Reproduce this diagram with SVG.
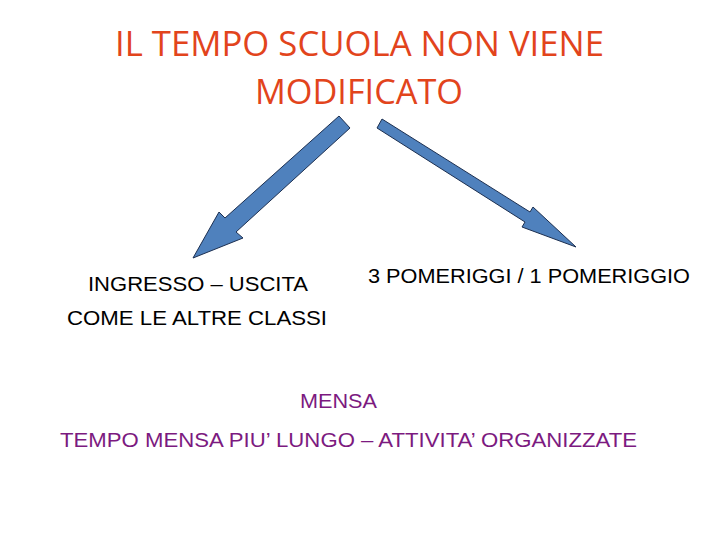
<svg xmlns="http://www.w3.org/2000/svg" width="720" height="540" viewBox="0 0 720 540">
<style>
.title{font-family:"Open Sans","Liberation Sans",sans-serif;font-size:35px;fill:#e2441c}
.lbl{font-family:"Liberation Sans",Arial,sans-serif;font-size:21px;fill:#000}
.mensa{font-family:"Liberation Sans",Arial,sans-serif;font-size:21px;fill:#7c1a80}
.arrow{fill:#4f81bd;stroke:#1c2f50;stroke-width:1;stroke-linejoin:miter}
</style>
<rect width="720" height="540" fill="#fff"/>
<g id="title">
<text class="title" x="115" y="56" textLength="489" lengthAdjust="spacingAndGlyphs">IL TEMPO SCUOLA NON VIENE</text>
<text class="title" x="255" y="104" textLength="208" lengthAdjust="spacingAndGlyphs">MODIFICATO</text>
</g>
<g id="connectors">
<polygon class="arrow" points="339,116 350,128 236,232 243,238 193,258 219,212 225,218"/>
<polygon class="arrow" points="382,119 530,212 533,207 576,247 522,227 525,222 377,128"/>
</g>
<g id="left">
<text class="lbl" x="88" y="291" textLength="220" lengthAdjust="spacingAndGlyphs">INGRESSO – USCITA</text>
<text class="lbl" x="67" y="325" textLength="260" lengthAdjust="spacingAndGlyphs">COME LE ALTRE CLASSI</text>
</g>
<g id="right">
<text class="lbl" x="368" y="283" textLength="322" lengthAdjust="spacingAndGlyphs">3 POMERIGGI / 1 POMERIGGIO</text>
</g>
<g id="mensa">
<text class="mensa" x="300" y="408" textLength="77" lengthAdjust="spacingAndGlyphs">MENSA</text>
<text class="mensa" x="60" y="447" textLength="577" lengthAdjust="spacingAndGlyphs">TEMPO MENSA PIU’ LUNGO – ATTIVITA’ ORGANIZZATE</text>
</g>
</svg>
